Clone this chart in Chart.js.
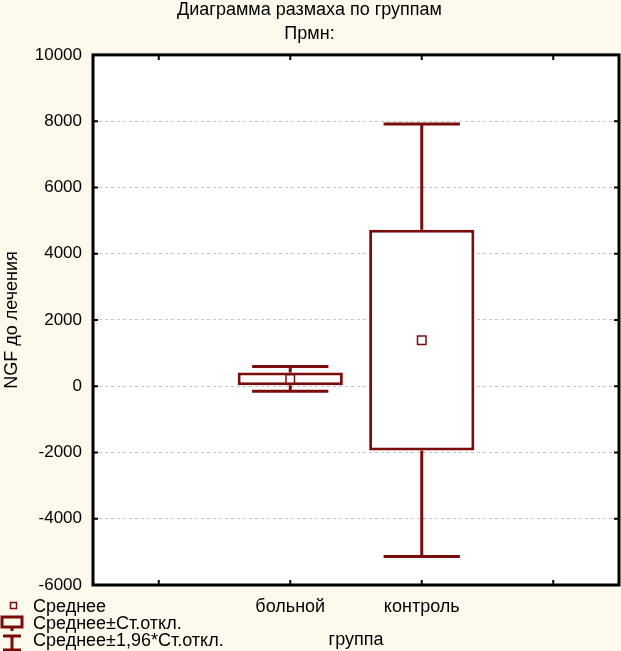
<!DOCTYPE html>
<html>
<head>
<meta charset="utf-8">
<script src="https://cdn.jsdelivr.net/npm/chart.js@4.4.0/dist/chart.umd.min.js"></script>
<style>
  html, body { margin: 0; padding: 0; background: #fdf9ec; overflow: hidden; }
  #wrap { width: 621px; height: 651px; }
  canvas { display: block; }
</style>
</head>
<body>
<div id="wrap"><canvas id="boxChart"></canvas></div>
<script>
// Data (empty slots left and right of the two groups)
const groups = ['', 'больной', 'контроль', ''];
const means = [null, 220, 1390, null];
const stdDevs = [null, 190, 3330, null];
const yMin = -6000;
const yMax = 10000;
const yStep = 2000;

const DARK_RED = '#7a0c0c';
const FONT = "'Liberation Sans', Arial, sans-serif";

// mean ± SD box, mean ± 1.96*SD whiskers
const boxes = means.map((m, i) => m === null ? null : [m - stdDevs[i], m + stdDevs[i]]);
const whiskers = means.map((m, i) => m === null ? null : [m - 1.96 * stdDevs[i], m + 1.96 * stdDevs[i]]);

// cream page, white plot area
const backgroundPlugin = {
    id: 'background',
    beforeDraw(chart) {
        const { ctx, chartArea: a } = chart;
        ctx.save();
        ctx.fillStyle = '#fdf9ec';
        ctx.fillRect(0, 0, chart.width, chart.height);
        ctx.fillStyle = '#ffffff';
        ctx.fillRect(a.left, a.top, a.right - a.left, a.bottom - a.top);
        ctx.restore();
    }
};

// whisker stems and caps
const whiskerPlugin = {
    id: 'whiskers',
    afterDatasetsDraw(chart) {
        const { ctx, scales: { x, y } } = chart;
        const slot = x.getPixelForValue(1) - x.getPixelForValue(0);
        const half = slot * 0.29;
        ctx.save();
        ctx.strokeStyle = DARK_RED;
        ctx.lineWidth = 3;
        whiskers.forEach((w, i) => {
            if (!w) return;
            const cx = x.getPixelForValue(i);
            const lo = y.getPixelForValue(w[0]);
            const hi = y.getPixelForValue(w[1]);
            const bLo = y.getPixelForValue(boxes[i][0]);
            const bHi = y.getPixelForValue(boxes[i][1]);
            ctx.beginPath();
            ctx.moveTo(cx, hi); ctx.lineTo(cx, bHi);
            ctx.moveTo(cx, bLo); ctx.lineTo(cx, lo);
            ctx.moveTo(cx - half, hi); ctx.lineTo(cx + half, hi);
            ctx.moveTo(cx - half, lo); ctx.lineTo(cx + half, lo);
            ctx.stroke();
        });
        ctx.restore();
    }
};

// black frame with short inward tick marks, then the legend
const framePlugin = {
    id: 'frame',
    afterDraw(chart) {
        const { ctx, chartArea: a, scales: { x, y } } = chart;
        ctx.save();
        ctx.strokeStyle = '#000';
        ctx.lineWidth = 3;
        ctx.strokeRect(a.left, a.top, a.right - a.left, a.bottom - a.top);
        ctx.lineWidth = 2;
        ctx.beginPath();
        groups.forEach((g, i) => {
            const px = x.getPixelForValue(i);
            ctx.moveTo(px, a.top); ctx.lineTo(px, a.top + 5);
            ctx.moveTo(px, a.bottom); ctx.lineTo(px, a.bottom - 5);
        });
        y.ticks.forEach(t => {
            const py = y.getPixelForValue(t.value);
            ctx.moveTo(a.left, py); ctx.lineTo(a.left + 5, py);
            ctx.moveTo(a.right, py); ctx.lineTo(a.right - 5, py);
        });
        ctx.stroke();

        // legend
        ctx.font = '18px ' + FONT;
        ctx.fillStyle = '#000';
        ctx.textBaseline = 'middle';
        ctx.textAlign = 'left';
        ctx.fillText('Среднее', 33, 607);
        ctx.fillText('Среднее±Ст.откл.', 33, 624);
        ctx.fillText('Среднее±1,96*Ст.откл.', 33, 641);

        ctx.strokeStyle = DARK_RED;
        ctx.lineWidth = 1.5;
        ctx.strokeRect(10.5, 602.5, 6, 6);

        ctx.lineWidth = 3;
        ctx.strokeRect(2, 617, 20, 10);
        ctx.beginPath();
        ctx.moveTo(12, 627); ctx.lineTo(12, 631);
        ctx.moveTo(3, 636); ctx.lineTo(21, 636);
        ctx.moveTo(12, 636); ctx.lineTo(12, 651);
        ctx.moveTo(3, 650); ctx.lineTo(21, 650);
        ctx.stroke();
        ctx.restore();
    }
};

const ctx = document.getElementById('boxChart').getContext('2d');

new Chart(ctx, {
    data: {
        labels: groups,
        datasets: [
            {
                type: 'line',
                label: 'Среднее',
                data: means,
                showLine: false,
                pointStyle: 'rect',
                pointRadius: 6,
                pointBorderWidth: 1.5,
                pointBorderColor: DARK_RED,
                pointBackgroundColor: '#ffffff',
                order: 0
            },
            {
                type: 'bar',
                label: 'Среднее±Ст.откл.',
                data: boxes,
                backgroundColor: '#ffffff',
                borderColor: DARK_RED,
                borderWidth: 3,
                borderSkipped: false,
                barPercentage: 0.8,
                categoryPercentage: 1,
                order: 1
            }
        ]
    },
    options: {
        responsive: true,
        maintainAspectRatio: false,
        animation: false,
        layout: { autoPadding: false, padding: { left: 0, right: 2, top: 0, bottom: 0 } },
        plugins: {
            legend: { display: false },
            tooltip: { enabled: false },
            title: {
                display: true,
                text: ['Диаграмма размаха по группам', 'Прмн:'],
                color: '#000',
                font: { family: FONT, size: 18, weight: 'normal', lineHeight: 1.33 },
                padding: { top: -2, bottom: 9 }
            }
        },
        scales: {
            x: {
                type: 'category',
                offset: true,
                grid: { display: false, drawTicks: false },
                border: { display: false },
                ticks: { color: '#000', font: { family: FONT, size: 18 }, padding: 11, maxRotation: 0, autoSkip: false },
                title: {
                    display: true,
                    text: 'группа',
                    color: '#000',
                    font: { family: FONT, size: 18 },
                    padding: { top: -2, bottom: 0 }
                },
                afterFit(scale) {
                    scale.height = 66;
                    scale.paddingLeft = 0;
                    scale.paddingRight = 0;
                }
            },
            y: {
                min: yMin,
                max: yMax,
                grid: { color: '#c4c4c4', drawTicks: false },
                border: { display: false, dash: [3, 3] },
                ticks: {
                    stepSize: yStep,
                    color: '#000',
                    font: { family: FONT, size: 17 },
                    padding: 11,
                    callback: v => String(v)
                },
                title: {
                    display: true,
                    text: 'NGF до лечения',
                    color: '#000',
                    font: { family: FONT, size: 18 },
                    padding: { top: 1, bottom: 0 }
                },
                afterFit(scale) { scale.width = 93; }
            }
        }
    },
    plugins: [backgroundPlugin, whiskerPlugin, framePlugin]
});
</script>
</body>
</html>
